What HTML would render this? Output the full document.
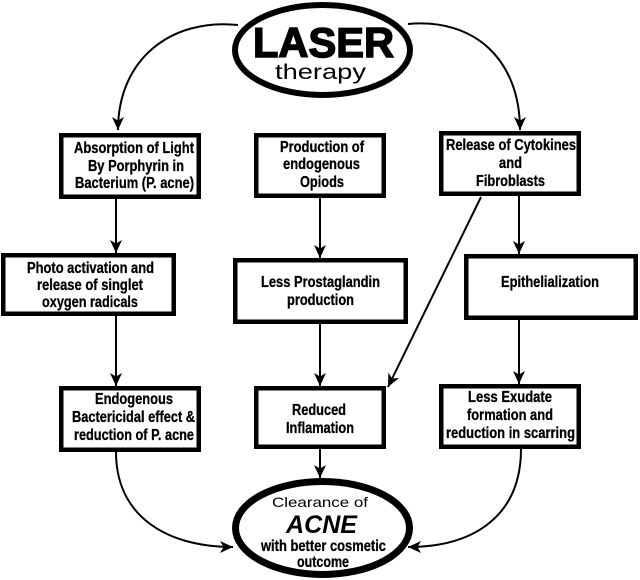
<!DOCTYPE html>
<html>
<head>
<meta charset="utf-8">
<style>
  html, body { margin:0; padding:0; background:#fff; }
  svg { display:block; }
  .t { font-family: "Liberation Sans", Arial, sans-serif; font-weight:bold; font-size:16px; fill:#000; stroke:#000; stroke-width:0.3px; }
</style>
</head>
<body>
<svg width="640" height="580" viewBox="0 0 640 580" xmlns="http://www.w3.org/2000/svg">
  <defs>
    <marker id="ah" markerUnits="userSpaceOnUse" markerWidth="14" markerHeight="12" refX="13" refY="6" orient="auto">
      <path d="M0,0 L13,6 L0,12 L3.5,6 Z" fill="#000"/>
    </marker>
  </defs>
  <rect width="640" height="580" fill="#fff"/>

  <!-- connectors -->
  <g fill="none" stroke="#000" stroke-width="2">
    <path d="M238 25 C170 18, 118 60, 118 130" marker-end="url(#ah)"/>
    <path d="M408 24 C475 18, 520 60, 520 130" marker-end="url(#ah)"/>
    <line x1="116" y1="199" x2="116" y2="253" marker-end="url(#ah)"/>
    <line x1="320" y1="198" x2="320" y2="258" marker-end="url(#ah)"/>
    <line x1="519" y1="196" x2="519" y2="254" marker-end="url(#ah)"/>
    <line x1="116" y1="316" x2="116" y2="386" marker-end="url(#ah)"/>
    <line x1="320" y1="324" x2="320" y2="386" marker-end="url(#ah)"/>
    <line x1="519" y1="318" x2="519" y2="384" marker-end="url(#ah)"/>
    <line x1="481" y1="197" x2="388" y2="387" marker-end="url(#ah)"/>
    <line x1="320" y1="449" x2="320" y2="478" marker-end="url(#ah)"/>
    <path d="M116 452 C116 515, 165 547, 233 547" marker-end="url(#ah)"/>
    <path d="M521 449 C521 515, 475 547, 408 547" marker-end="url(#ah)"/>
  </g>

  <!-- top ellipse -->
  <ellipse cx="322.5" cy="50" rx="87.5" ry="45" fill="#fff" stroke="#000" stroke-width="6"/>
  <text x="253" y="57" font-family="Liberation Sans, Arial, sans-serif" font-weight="bold" font-size="42" textLength="141" lengthAdjust="spacingAndGlyphs" fill="#000" stroke="#000" stroke-width="1.5">LASER</text>
  <text x="275" y="79" font-family="Liberation Sans, Arial, sans-serif" font-size="21" textLength="91" lengthAdjust="spacingAndGlyphs" fill="#000">therapy</text>

  <!-- boxes -->
  <g fill="#fff" stroke="#000" stroke-width="4.5">
    <rect x="61.25" y="135.25" width="137.5" height="61.5"/>
    <rect x="256.25" y="135.25" width="127.5" height="60.5"/>
    <rect x="441.25" y="133.25" width="137.5" height="60.5"/>
    <rect x="3.25" y="255.25" width="170.5" height="58.5"/>
    <rect x="235.25" y="260.25" width="170.5" height="61.5"/>
    <rect x="466.25" y="256.25" width="169.5" height="61.5"/>
    <rect x="61.25" y="388.25" width="137.5" height="61.5"/>
    <rect x="256.25" y="388.25" width="127.5" height="58.5"/>
    <rect x="441.25" y="386.25" width="137.5" height="60.5"/>
  </g>

  <!-- box texts -->
  <g>
    <text class="t" x="74" y="153" textLength="120" lengthAdjust="spacingAndGlyphs">Absorption of Light</text>
    <text class="t" x="88" y="171" textLength="96" lengthAdjust="spacingAndGlyphs">By Porphyrin in</text>
    <text class="t" x="75" y="188" textLength="119" lengthAdjust="spacingAndGlyphs">Bacterium (P. acne)</text>

    <text class="t" x="280" y="152" textLength="84" lengthAdjust="spacingAndGlyphs">Production of</text>
    <text class="t" x="283" y="169" textLength="77" lengthAdjust="spacingAndGlyphs">endogenous</text>
    <text class="t" x="300" y="187" textLength="44" lengthAdjust="spacingAndGlyphs">Opiods</text>

    <text class="t" x="446" y="150" textLength="130" lengthAdjust="spacingAndGlyphs">Release of Cytokines</text>
    <text class="t" x="499" y="168" textLength="23" lengthAdjust="spacingAndGlyphs">and</text>
    <text class="t" x="476" y="186" textLength="69" lengthAdjust="spacingAndGlyphs">Fibroblasts</text>

    <text class="t" x="27" y="273" textLength="127" lengthAdjust="spacingAndGlyphs">Photo activation and</text>
    <text class="t" x="37" y="290" textLength="106" lengthAdjust="spacingAndGlyphs">release of singlet</text>
    <text class="t" x="42" y="307" textLength="96" lengthAdjust="spacingAndGlyphs">oxygen radicals</text>

    <text class="t" x="261" y="287" textLength="119" lengthAdjust="spacingAndGlyphs">Less Prostaglandin</text>
    <text class="t" x="287" y="305" textLength="67" lengthAdjust="spacingAndGlyphs">production</text>

    <text class="t" x="501" y="287" textLength="98" lengthAdjust="spacingAndGlyphs">Epithelialization</text>

    <text class="t" x="95" y="404" textLength="78" lengthAdjust="spacingAndGlyphs">Endogenous</text>
    <text class="t" x="72" y="422" textLength="123" lengthAdjust="spacingAndGlyphs">Bactericidal effect &amp;</text>
    <text class="t" x="74" y="440" textLength="120" lengthAdjust="spacingAndGlyphs">reduction of P. acne</text>

    <text class="t" x="292" y="415" textLength="54" lengthAdjust="spacingAndGlyphs">Reduced</text>
    <text class="t" x="286" y="433" textLength="68" lengthAdjust="spacingAndGlyphs">Inflamation</text>

    <text class="t" x="468" y="402" textLength="84" lengthAdjust="spacingAndGlyphs">Less Exudate</text>
    <text class="t" x="467" y="420" textLength="86" lengthAdjust="spacingAndGlyphs">formation and</text>
    <text class="t" x="446" y="438" textLength="129" lengthAdjust="spacingAndGlyphs">reduction in scarring</text>
  </g>

  <!-- bottom ellipse -->
  <ellipse cx="322.5" cy="528" rx="87" ry="46.5" fill="#fff" stroke="#000" stroke-width="7"/>
  <text x="272" y="507" font-family="Liberation Sans, Arial, sans-serif" font-size="14" textLength="96" lengthAdjust="spacingAndGlyphs" fill="#000">Clearance of</text>
  <text x="286" y="533" font-family="Liberation Sans, Arial, sans-serif" font-weight="bold" font-style="italic" font-size="25" textLength="71" lengthAdjust="spacingAndGlyphs" fill="#000">ACNE</text>
  <text class="t" x="261" y="551" textLength="125" lengthAdjust="spacingAndGlyphs">with better cosmetic</text>
  <text class="t" x="297" y="567" textLength="52" lengthAdjust="spacingAndGlyphs">outcome</text>
</svg>
</body>
</html>
